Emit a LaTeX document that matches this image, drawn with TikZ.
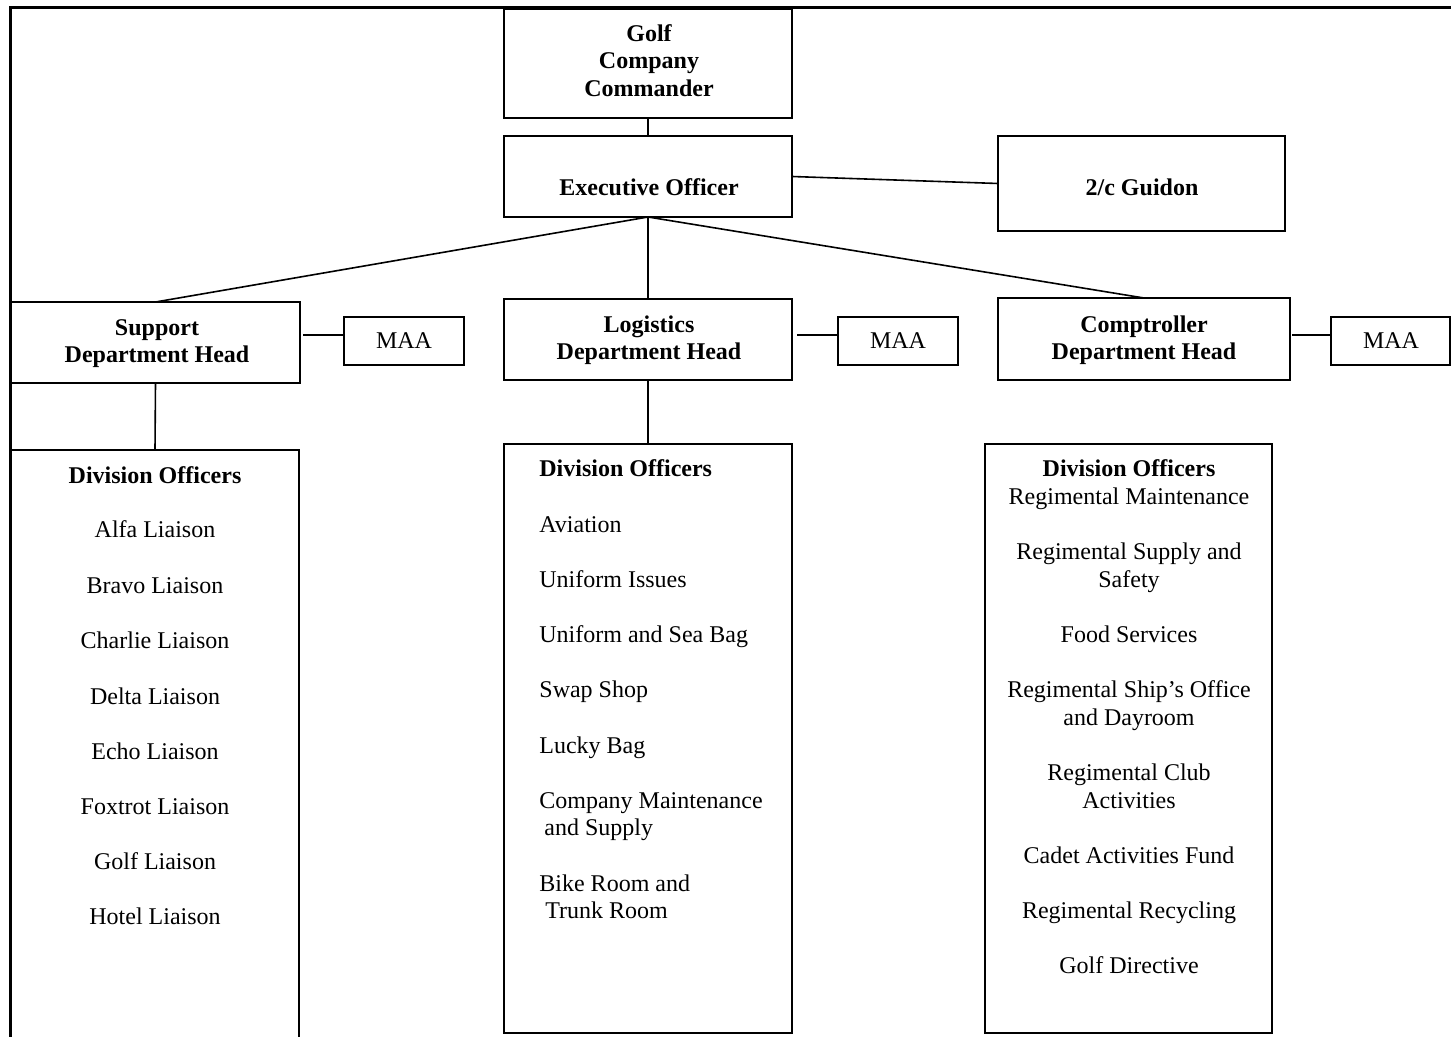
\documentclass[tikz,border=0pt]{standalone}
\usepackage{fontspec}
\setmainfont{Liberation Serif}
\newcommand\mkbox[5]{\node[box, minimum width={0.5pt*(#4-#2)}, minimum height={0.5pt*(#5-#3)}] (#1) at ({(#2+#4)/2},{(#3+#5)/2}) {};}
\begin{document}
\begin{tikzpicture}[x=0.5pt,y=-0.5pt,
  box/.style={draw, line width=1pt, inner sep=0pt, outer sep=0pt},
  conn/.style={line width=0.8pt},
  frameline/.style={line width=1.5pt},
  txt/.style={anchor=base, inner sep=0pt, font=\fontsize{12}{14}\selectfont},
  btxt/.style={txt, font=\fontsize{12}{14}\selectfont\bfseries},
  ltxt/.style={txt, anchor=base west},
  bltxt/.style={btxt, anchor=base west}]
\useasboundingbox (0,0) rectangle (1451,1037);
\clip (0,0) rectangle (1451,1037);
\fill[white] (0,0) rectangle (1451,1037);
% frame
\coordinate (ftl) at (10,8);
\coordinate (ftr) at (1460,8);
\coordinate (fbl) at (10,1045);
\draw[frameline] (fbl) -- (ftl) -- (ftr);
% boxes
\mkbox{cmd}{504}{9}{792}{118}
\mkbox{xo}{504}{136}{792}{217}
\mkbox{guidon}{998}{136}{1285}{231}
\mkbox{sup}{11}{302}{300}{383}
\mkbox{log}{504}{299}{792}{380}
\mkbox{comp}{998}{298}{1290}{380}
\mkbox{maaa}{344}{317}{464}{365}
\mkbox{maab}{838}{317}{958}{365}
\mkbox{maac}{1331}{317}{1450}{365}
\mkbox{supdiv}{11}{450}{299}{1050}
\mkbox{logdiv}{504}{444}{792}{1033}
\mkbox{compdiv}{985}{444}{1272}{1033}
% connectors
\coordinate (maay) at (0,335);
\draw[conn] (cmd.south) -- (xo.north);
\draw[conn] (xo.east) -- (guidon.west);
\draw[conn] (xo.south) -- (sup.north);
\draw[conn] (xo.south) -- (log.north);
\draw[conn] (xo.south) -- (comp.north);
\draw[conn, shorten <=1.5pt] (sup.east |- maay) -- (maaa.west |- maay);
\draw[conn, shorten <=2.5pt] (log.east |- maay) -- (maab.west |- maay);
\draw[conn, shorten <=1pt] (comp.east |- maay) -- (maac.west |- maay);
\draw[conn] (sup.south) -- (supdiv.north);
\draw[conn] (log.south) -- (logdiv.north);
% header texts
\node[btxt] (cmda) at (649,42) {Golf};
\node[btxt] (cmdb) at (649,69) {Company};
\node[btxt] (cmdc) at (649,97) {Commander};
\node[btxt] (xot) at (649,196) {Executive Officer};
\node[btxt] (gt) at (1142,196) {2/c Guidon};
\node[btxt] (supa) at (157,336) {Support};
\node[btxt] (supb) at (157,363) {Department Head};
\node[btxt] (loga) at (649,333) {Logistics};
\node[btxt] (logb) at (649,360) {Department Head};
\node[btxt] (compa) at (1144,333) {Comptroller};
\node[btxt] (compb) at (1144,360) {Department Head};
\node[txt] (maaat) at (404,349) {MAA};
\node[txt] (maabt) at (898,349) {MAA};
\node[txt] (maact) at (1391,349) {MAA};
% support division
\node[btxt] (sd0) at (155,483) {Division Officers};
\node[txt] (sd1) at (155,538) {Alfa Liaison};
\node[txt] (sd2) at (155,593) {Bravo Liaison};
\node[txt] (sd3) at (155,648) {Charlie Liaison};
\node[txt] (sd4) at (155,704) {Delta Liaison};
\node[txt] (sd5) at (155,759) {Echo Liaison};
\node[txt] (sd6) at (155,814) {Foxtrot Liaison};
\node[txt] (sd7) at (155,869) {Golf Liaison};
\node[txt] (sd8) at (155,924) {Hotel Liaison};
% logistics division
\node[bltxt] (ld0) at (539,477) {Division Officers};
\node[ltxt] (ld1) at (539,532) {Aviation};
\node[ltxt] (ld2) at (539,587) {Uniform Issues};
\node[ltxt] (ld3) at (539,642) {Uniform and Sea Bag};
\node[ltxt] (ld4) at (539,697) {Swap Shop};
\node[ltxt] (ld5) at (539,753) {Lucky Bag};
\node[ltxt] (ld6) at (539,808) {Company Maintenance};
\node[ltxt] (ld6b) at (544,835) {and Supply};
\node[ltxt] (ld7) at (539,891) {Bike Room and};
\node[ltxt] (ld7b) at (545,918) {Trunk Room};
% comptroller division
\node[btxt] (cd0) at (1129,477) {Division Officers};
\node[txt] (cd1) at (1129,504) {Regimental Maintenance};
\node[txt] (cd2) at (1129,559) {Regimental Supply and};
\node[txt] (cd2b) at (1129,587) {Safety};
\node[txt] (cd3) at (1129,642) {Food Services};
\node[txt] (cd4) at (1129,697) {Regimental Ship’s Office};
\node[txt] (cd4b) at (1129,725) {and Dayroom};
\node[txt] (cd5) at (1129,780) {Regimental Club};
\node[txt] (cd5b) at (1129,808) {Activities};
\node[txt] (cd6) at (1129,863) {Cadet Activities Fund};
\node[txt] (cd7) at (1129,918) {Regimental Recycling};
\node[txt] (cd8) at (1129,973) {Golf Directive};
\end{tikzpicture}
\end{document}
